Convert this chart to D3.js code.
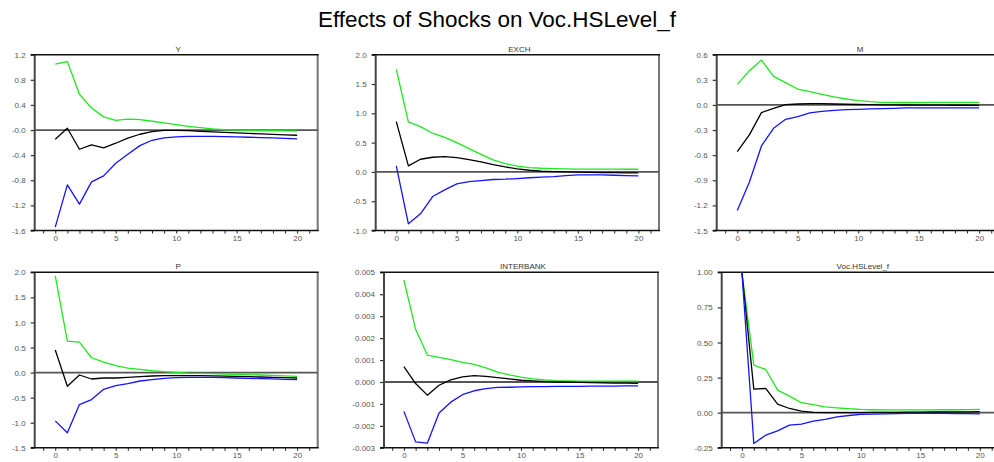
<!DOCTYPE html>
<html>
<head>
<meta charset="utf-8">
<script src="https://cdn.jsdelivr.net/npm/d3@7/dist/d3.min.js"></script>
<style>
  html, body { margin: 0; padding: 0; background: #fff; }
  svg { display: block; }
  text { font-family: "Liberation Sans", Arial, sans-serif; }
</style>
</head>
<body>
<svg id="chart" width="994" height="462"></svg>
<script>
// Impulse responses over horizons 0..20: point estimate with lower/upper bands.
const periods = d3.range(0, 21);
const panelTitles = ["Y", "EXCH", "M", "P", "INTERBANK", "Voc.HSLevel_f"];

const yUpper = [1.05, 1.09, 0.57, 0.35, 0.21, 0.155, 0.175, 0.165, 0.14, 0.113, 0.086, 0.06, 0.038, 0.017, 0.005, -0.002, -0.006, -0.009, -0.011, -0.013, -0.015];
const yMid   = [-0.147, 0.028, -0.306, -0.237, -0.285, -0.21, -0.13, -0.067, -0.025, -0.006, -0.005, -0.01, -0.02, -0.03, -0.038, -0.046, -0.054, -0.062, -0.069, -0.076, -0.083];
const yLower = [-1.547, -0.873, -1.18, -0.826, -0.73, -0.529, -0.386, -0.248, -0.163, -0.126, -0.11, -0.10, -0.10, -0.10, -0.105, -0.11, -0.115, -0.12, -0.126, -0.132, -0.142];

const exchUpper = [1.75, 0.852, 0.773, 0.66, 0.59, 0.5, 0.398, 0.30, 0.205, 0.142, 0.097, 0.074, 0.062, 0.057, 0.051, 0.048, 0.047, 0.046, 0.046, 0.045, 0.045];
const exchMid   = [0.858, 0.102, 0.216, 0.25, 0.261, 0.244, 0.21, 0.17, 0.125, 0.085, 0.05, 0.028, 0.011, 0.005, 0.0, -0.005, -0.008, -0.011, -0.013, -0.015, -0.017];
const exchLower = [0.102, -0.886, -0.716, -0.42, -0.307, -0.205, -0.165, -0.148, -0.13, -0.125, -0.114, -0.10, -0.09, -0.08, -0.063, -0.051, -0.051, -0.052, -0.057, -0.063, -0.068];

const mUpper = [0.246, 0.409, 0.536, 0.341, 0.266, 0.19, 0.159, 0.127, 0.095, 0.071, 0.051, 0.039, 0.031, 0.029, 0.029, 0.029, 0.03, 0.03, 0.03, 0.03, 0.03];
const mMid   = [-0.557, -0.358, -0.092, -0.04, 0.003, 0.011, 0.015, 0.015, 0.011, 0.008, 0.005, 0.003, 0.001, 0.0, -0.001, -0.002, -0.003, -0.003, -0.004, -0.004, -0.005];
const mLower = [-1.261, -0.923, -0.49, -0.279, -0.172, -0.14, -0.096, -0.076, -0.064, -0.056, -0.052, -0.048, -0.044, -0.04, -0.036, -0.035, -0.034, -0.034, -0.034, -0.035, -0.035];

const pUpper = [1.927, 0.628, 0.608, 0.296, 0.21, 0.137, 0.09, 0.064, 0.037, 0.018, 0.005, -0.009, -0.015, -0.022, -0.028, -0.035, -0.04, -0.048, -0.055, -0.064, -0.075];
const pMid   = [0.449, -0.274, -0.048, -0.128, -0.108, -0.108, -0.095, -0.082, -0.068, -0.062, -0.06, -0.06, -0.062, -0.065, -0.07, -0.075, -0.082, -0.088, -0.095, -0.102, -0.108];
const pLower = [-0.963, -1.2, -0.638, -0.539, -0.333, -0.26, -0.22, -0.168, -0.14, -0.115, -0.1, -0.095, -0.095, -0.095, -0.1, -0.108, -0.114, -0.12, -0.127, -0.134, -0.141];

const ibUpper = [0.00465, 0.0024, 0.001226, 0.00112, 0.001015, 0.00089, 0.0008, 0.00064, 0.00045, 0.00032, 0.00022, 0.00014, 0.00009, 0.00006, 0.00005, 0.00004, 0.00004, 0.00004, 0.00004, 0.00004, 0.00004];
const ibMid   = [0.0007, -0.00007, -0.0006, -0.00015, 0.0001, 0.00023, 0.00029, 0.00026, 0.0002, 0.00014, 0.00008, 0.00005, 0.00002, 0.0, -0.00001, -0.00002, -0.00003, -0.00004, -0.00005, -0.00005, -0.00006];
const ibLower = [-0.00134, -0.00273, -0.00279, -0.00141, -0.00092, -0.00058, -0.0004, -0.0003, -0.00025, -0.00024, -0.00022, -0.00021, -0.00021, -0.0002, -0.0002, -0.0002, -0.00019, -0.00019, -0.00019, -0.00018, -0.00018];

const vocUpper = [1.0, 0.339, 0.308, 0.161, 0.118, 0.071, 0.057, 0.042, 0.035, 0.028, 0.023, 0.021, 0.02, 0.02, 0.02, 0.02, 0.02, 0.021, 0.021, 0.022, 0.023];
const vocMid   = [1.0, 0.168, 0.173, 0.061, 0.03, 0.011, 0.002, 0.0, 0.0, 0.0, 0.001, 0.002, 0.003, 0.003, 0.004, 0.004, 0.005, 0.005, 0.006, 0.006, 0.007];
const vocLower = [1.0, -0.219, -0.16, -0.129, -0.088, -0.081, -0.06, -0.048, -0.029, -0.02, -0.012, -0.01, -0.008, -0.006, -0.005, -0.005, -0.005, -0.005, -0.006, -0.007, -0.008];

// y-axis tick values and their printed labels per panel
const yTickValues = [
  [1.2, 0.8, 0.4, 0.0, -0.4, -0.8, -1.2, -1.6],
  [2.0, 1.5, 1.0, 0.5, 0.0, -0.5, -1.0],
  [0.6, 0.3, 0.0, -0.3, -0.6, -0.9, -1.2, -1.5],
  [2.0, 1.5, 1.0, 0.5, 0.0, -0.5, -1.0, -1.5],
  [0.005, 0.004, 0.003, 0.002, 0.001, 0.0, -0.001, -0.002, -0.003],
  [1.0, 0.75, 0.5, 0.25, 0.0, -0.25]
];
const yTickLabels = [
  ["1.2", "0.8", "0.4", "-0.0", "-0.4", "-0.8", "-1.2", "-1.6"],
  ["2.0", "1.5", "1.0", "0.5", "0.0", "-0.5", "-1.0"],
  ["0.6", "0.3", "0.0", "-0.3", "-0.6", "-0.9", "-1.2", "-1.5"],
  ["2.0", "1.5", "1.0", "0.5", "0.0", "-0.5", "-1.0", "-1.5"],
  ["0.005", "0.004", "0.003", "0.002", "0.001", "0.000", "-0.001", "-0.002", "-0.003"],
  ["1.00", "0.75", "0.50", "0.25", "0.00", "-0.25"]
];
const xTickValues = [0, 5, 10, 15, 20];
const xMinorTicks = d3.range(-1, 22);

const upperSeries = [yUpper, exchUpper, mUpper, pUpper, ibUpper, vocUpper];
const midSeries   = [yMid, exchMid, mMid, pMid, ibMid, vocMid];
const lowerSeries = [yLower, exchLower, mLower, pLower, ibLower, vocLower];

// Plot-area boxes for the 3x2 grid
const boxes = [
  { left: 34.7,  right: 317.7, top: 54.7,  bottom: 230.5 },
  { left: 375.7, right: 659.0, top: 54.7,  bottom: 230.5 },
  { left: 716.7, right: 999.7, top: 54.7,  bottom: 230.5 },
  { left: 34.7,  right: 317.7, top: 272.3, bottom: 447.8 },
  { left: 384.0, right: 658.0, top: 272.3, bottom: 447.8 },
  { left: 721.7, right: 1000.0, top: 272.3, bottom: 447.8 }
];

const svg = d3.select("#chart");

svg.append("text")
  .attr("x", 497).attr("y", 27)
  .attr("text-anchor", "middle")
  .attr("font-size", 22)
  .attr("textLength", 358)
  .attr("lengthAdjust", "spacingAndGlyphs")
  .attr("fill", "#000")
  .text("Effects of Shocks on Voc.HSLevel_f");

const lineStyles = [
  { key: "upper", color: "#1ee81e" },
  { key: "mid",   color: "#000000" },
  { key: "lower", color: "#1414ff" }
];

panelTitles.forEach((title, i) => {
  const b = boxes[i];
  const ticks = yTickValues[i];
  const x = d3.scaleLinear().domain([-1.7, 21.7]).range([b.left, b.right]);
  const y = d3.scaleLinear().domain([d3.min(ticks), d3.max(ticks)]).range([b.bottom, b.top]);
  const g = svg.append("g");

  // panel title
  g.append("text")
    .attr("x", (x(0) + x(20)) / 2 + 2).attr("y", b.top - 3)
    .attr("text-anchor", "middle")
    .attr("font-size", 8)
    .attr("fill", "#333")
    .text(title);

  // y axis with custom labels
  const yAxis = d3.axisLeft(y)
    .tickValues(ticks)
    .tickFormat((d, k) => yTickLabels[i][k])
    .tickSize(4)
    .tickPadding(5);
  const ya = g.append("g").attr("transform", `translate(${b.left},0)`).call(yAxis);
  ya.select(".domain").remove();
  ya.selectAll("line").attr("stroke", "#333").attr("stroke-width", 1.2);
  ya.selectAll("text").attr("font-size", 8).attr("fill", "#555")
    .attr("font-family", "'Liberation Sans', Arial, sans-serif");

  // x axis: minor ticks every period, labels every five
  const xAxisMinor = d3.axisBottom(x).tickValues(xMinorTicks).tickSize(3).tickFormat("");
  const xm = g.append("g").attr("transform", `translate(0,${b.bottom})`).call(xAxisMinor);
  xm.select(".domain").remove();
  xm.selectAll("line").attr("stroke", "#222").attr("stroke-width", 1);
  const xAxis = d3.axisBottom(x).tickValues(xTickValues).tickSize(0).tickPadding(5).tickFormat(d3.format("d"));
  const xa = g.append("g").attr("transform", `translate(0,${b.bottom})`).call(xAxis);
  xa.select(".domain").remove();
  xa.selectAll("text").attr("font-size", 8).attr("fill", "#555")
    .attr("font-family", "'Liberation Sans', Arial, sans-serif");

  // frame: left and right sides grey, top and bottom black
  g.append("line").attr("x1", b.left).attr("x2", b.left).attr("y1", b.top).attr("y2", b.bottom)
    .attr("stroke", "#444").attr("stroke-width", 2);
  g.append("line").attr("x1", b.right).attr("x2", b.right).attr("y1", b.top).attr("y2", b.bottom)
    .attr("stroke", "#777").attr("stroke-width", 2);
  g.append("line").attr("x1", b.left - 4).attr("x2", b.right + 1).attr("y1", b.top).attr("y2", b.top)
    .attr("stroke", "#111").attr("stroke-width", 1.6);
  g.append("line").attr("x1", b.left - 4).attr("x2", b.right + 1).attr("y1", b.bottom).attr("y2", b.bottom)
    .attr("stroke", "#111").attr("stroke-width", 1.6);

  // zero reference line
  g.append("line").attr("x1", b.left).attr("x2", b.right).attr("y1", y(0)).attr("y2", y(0))
    .attr("stroke", "#555").attr("stroke-width", 1.8);

  const seriesByKey = { upper: upperSeries[i], mid: midSeries[i], lower: lowerSeries[i] };
  const line = d3.line().x((d, k) => x(periods[k])).y(d => y(d));
  lineStyles.forEach(s => {
    g.append("path")
      .datum(seriesByKey[s.key])
      .attr("d", line)
      .attr("fill", "none")
      .attr("stroke", s.color)
      .attr("stroke-width", 1.3)
      .attr("stroke-linejoin", "round");
  });
});
</script>
</body>
</html>
